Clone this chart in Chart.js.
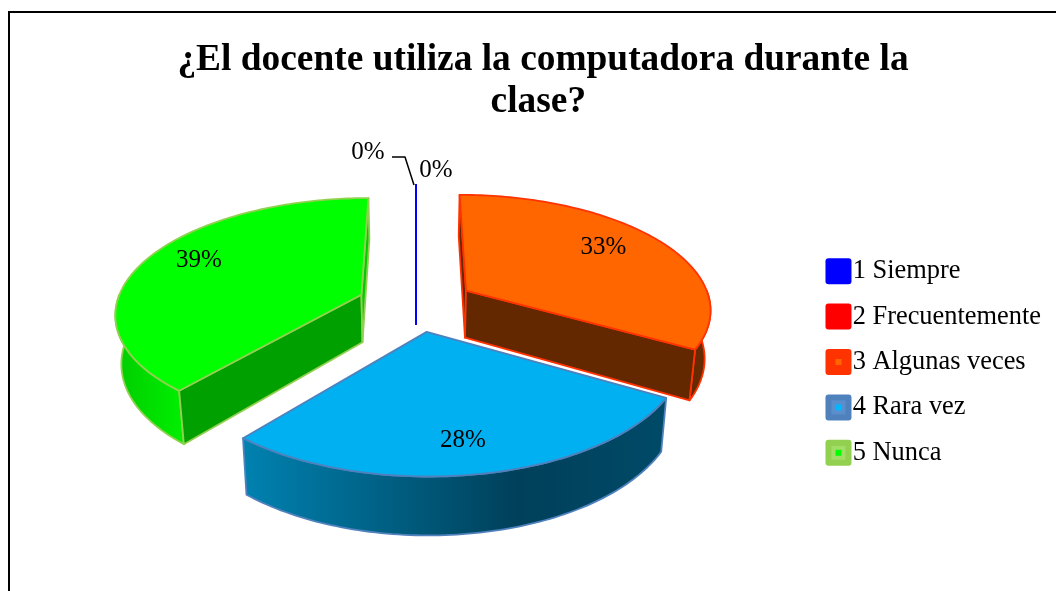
<!DOCTYPE html>
<html>
<head>
<meta charset="utf-8">
<title>Uso de la computadora</title>
<script src="https://cdn.jsdelivr.net/npm/chart.js@4/dist/chart.umd.min.js"></script>
<style>
    html, body { margin: 0; padding: 0; background: #fff; overflow: hidden; }
    #frame { position: absolute; left: 8px; top: 11px; width: 1200px; height: 800px; border: 2px solid #000; }
    #chart { position: absolute; left: 0; top: 0; }
</style>
</head>
<body>
<div id="frame"></div>
<canvas id="chart" width="1056" height="591"></canvas>
<script>
const titleLines = ['¿El docente utiliza la computadora durante la', 'clase? '];
const categories = ['1 Siempre', '2 Frecuentemente', '3 Algunas veces', '4 Rara vez', '5 Nunca'];
const percentages = [0, 0, 33.3, 27.8, 38.9];

const topColors = ['#0000ff', '#ff0000', '#ff6600', '#00b0f0', '#00ff00'];
const edgeColors = ['#0000ff', '#ff0000', '#ff3300', '#4f81bd', '#92d050'];
const startFaceColors = ['#0000ff', '#ff0000', '#642800', '#004060', '#00a000'];
const endFaceColors = ['#0000ff', '#ff0000', '#642800', '#004060', '#00cc00'];
const wallStops = [
    [[0, '#0000ff']],
    [[0, '#ff0000']],
    [[0, '#642800'], [1, '#6e2c00']],
    [[0, '#0082b0'], [0.65, '#00405a'], [1, '#004a68']],
    [[0, '#00cc00'], [1, '#00f000']]
];
const swatchMid = [null, null, null, '#5b8fcb', '#a3dc66'];
const swatchInner = [null, null, '#ff6600', '#00b8ff', '#00ff00'];

const FONT = '"Liberation Serif", "Times New Roman", serif';

// Fake 3D view of the pie, fitted to the reference
const CX = 416, CY = 304, RADIUS = 250, EXPLODE = 60;
const TILT = 0.455, DEPTH = 1672, WALL = 48, SHRINK = 0.98, WIDEN = 0.98;
const LABEL_RADIUS = [1, 1, 0.68, 0.87, 0.75];
const LABEL_NUDGE = [[0, 0], [0, 0], [5, -8], [-10, -12], [0, -7]];

function project(X, Y, lower) {
    const s = 1 / (1 - Y / DEPTH);
    let x = CX + X * s * WIDEN;
    let y = CY + TILT * Y * s;
    if (lower) {
        x = CX + (x - CX) * SHRINK;
        y += WALL * s;
    }
    return { x, y };
}

function slicePoint(mid, angle, r, lower) {
    return project(
        Math.sin(mid) * EXPLODE + r * Math.sin(angle),
        -Math.cos(mid) * EXPLODE - r * Math.cos(angle),
        lower
    );
}

function trace(ctx, points) {
    ctx.beginPath();
    points.forEach((p, i) => (i ? ctx.lineTo(p.x, p.y) : ctx.moveTo(p.x, p.y)));
    ctx.closePath();
}

function rimPoints(mid, from, to, lower) {
    const pts = [];
    const steps = Math.max(1, Math.ceil(Math.abs(to - from) / 0.02));
    for (let i = 0; i <= steps; i++) {
        pts.push(slicePoint(mid, from + (to - from) * i / steps, RADIUS, lower));
    }
    return pts;
}

function drawSlice(ctx, slice) {
    const { index, start, end, mid } = slice;
    ctx.lineJoin = 'round';
    ctx.lineWidth = 1.8;
    ctx.strokeStyle = edgeColors[index];

    // curved outside wall, only the part turned towards us
    const wallFrom = Math.max(start, Math.PI / 2);
    const wallTo = Math.min(end, Math.PI * 1.5);
    if (wallTo > wallFrom) {
        const upper = rimPoints(mid, wallFrom, wallTo, false);
        const lower = rimPoints(mid, wallFrom, wallTo, true).reverse();
        const xs = upper.concat(lower).map(p => p.x);
        const gradient = ctx.createLinearGradient(Math.min(...xs), 0, Math.max(...xs), 0);
        wallStops[index].forEach(stop => gradient.addColorStop(stop[0], stop[1]));
        ctx.fillStyle = gradient;
        trace(ctx, upper.concat(lower));
        ctx.fill();
        ctx.stroke();
    }

    // flat cut faces
    const apexX = Math.sin(mid) * EXPLODE;
    const apexY = -Math.cos(mid) * EXPLODE;
    const faces = [
        { angle: start, sign: -1, color: startFaceColors[index] },
        { angle: end, sign: 1, color: endFaceColors[index] }
    ];
    faces.forEach(face => {
        const facing = face.sign * (Math.cos(face.angle) * (0 - apexX) + Math.sin(face.angle) * (DEPTH - apexY));
        if (end - start > 0 && facing <= 0) return;
        ctx.fillStyle = face.color;
        trace(ctx, [
            slicePoint(mid, face.angle, 0, false),
            slicePoint(mid, face.angle, RADIUS, false),
            slicePoint(mid, face.angle, RADIUS, true),
            slicePoint(mid, face.angle, 0, true)
        ]);
        ctx.fill();
        ctx.stroke();
    });

    // top surface
    if (end > start) {
        ctx.fillStyle = topColors[index];
        trace(ctx, [slicePoint(mid, 0, 0, false)].concat(rimPoints(mid, start, end, false)));
        ctx.fill();
        ctx.stroke();
    }
}

const pie3dPlugin = {
    id: 'pie3d',
    beforeDatasetsDraw(chart) {
        const ctx = chart.ctx;
        const slices = chart.getDatasetMeta(0).data.map((arc, index) => {
            const start = arc.startAngle + Math.PI / 2;
            const end = arc.endAngle + Math.PI / 2;
            return { index, start, end, mid: (start + end) / 2 };
        });

        // back to front, the first category ends up on top of its zero sized neighbour
        const order = slices.slice().sort((a, b) =>
            (-Math.cos(a.mid) - -Math.cos(b.mid)) || (b.index - a.index));
        ctx.save();
        order.forEach(slice => drawSlice(ctx, slice));

        // value labels
        ctx.fillStyle = '#000';
        ctx.font = '25px ' + FONT;
        ctx.textAlign = 'center';
        ctx.textBaseline = 'middle';
        slices.forEach(slice => {
            const text = Math.round(percentages[slice.index]) + '%';
            const p = slicePoint(slice.mid, slice.mid, RADIUS * LABEL_RADIUS[slice.index], false);
            const nudge = LABEL_NUDGE[slice.index];
            if (slice.end > slice.start) {
                ctx.fillText(text, p.x + nudge[0], p.y + nudge[1]);
            } else if (slice.index === 0) {
                ctx.fillText(text, p.x - 48, p.y - 33);
                ctx.beginPath();
                ctx.moveTo(p.x - 24, p.y - 28);
                ctx.lineTo(p.x - 11, p.y - 28);
                ctx.lineTo(p.x - 2, p.y);
                ctx.strokeStyle = '#000';
                ctx.lineWidth = 1.5;
                ctx.stroke();
            } else {
                ctx.fillText(text, p.x + 20, p.y - 15);
            }
        });
        ctx.restore();
        return false;
    },
    afterDraw(chart) {
        // legend keys: outer edge colour with the fill colour in the middle
        const ctx = chart.ctx;
        chart.legend.legendHitBoxes.forEach((box, i) => {
            const cy = box.top + box.height / 2;
            const left = box.left - 2;
            ctx.save();
            ctx.fillStyle = edgeColors[i];
            ctx.beginPath();
            ctx.roundRect(left, cy - 13, 26, 26, 3);
            ctx.fill();
            if (swatchMid[i]) {
                ctx.fillStyle = swatchMid[i];
                ctx.fillRect(left + 6, cy - 7, 14, 14);
            }
            if (swatchInner[i]) {
                ctx.fillStyle = swatchInner[i];
                ctx.fillRect(left + 10, cy - 3, 6, 6);
            }
            ctx.restore();
        });
    }
};

new Chart(document.getElementById('chart'), {
    type: 'pie',
    data: {
        labels: categories,
        datasets: [{ data: percentages, backgroundColor: topColors, borderColor: edgeColors }]
    },
    plugins: [pie3dPlugin],
    options: {
        responsive: false,
        animation: false,
        layout: { padding: { left: 35, right: 5, top: 39, bottom: 106 } },
        plugins: {
            tooltip: { enabled: false },
            title: {
                display: true,
                text: titleLines,
                color: '#000',
                padding: { top: 0, bottom: 4 },
                font: { family: FONT, size: 37.4, weight: 'bold', lineHeight: 1.135 }
            },
            legend: {
                position: 'right',
                align: 'end',
                labels: {
                    boxWidth: 12,
                    boxHeight: 26,
                    padding: 19,
                    color: '#000',
                    font: { family: FONT, size: 26.4 },
                    generateLabels: chart => chart.data.labels.map((text, i) => ({
                        text,
                        index: i,
                        fillStyle: 'rgba(0,0,0,0)',
                        strokeStyle: 'rgba(0,0,0,0)',
                        lineWidth: 0
                    }))
                }
            }
        }
    }
});
</script>
</body>
</html>
